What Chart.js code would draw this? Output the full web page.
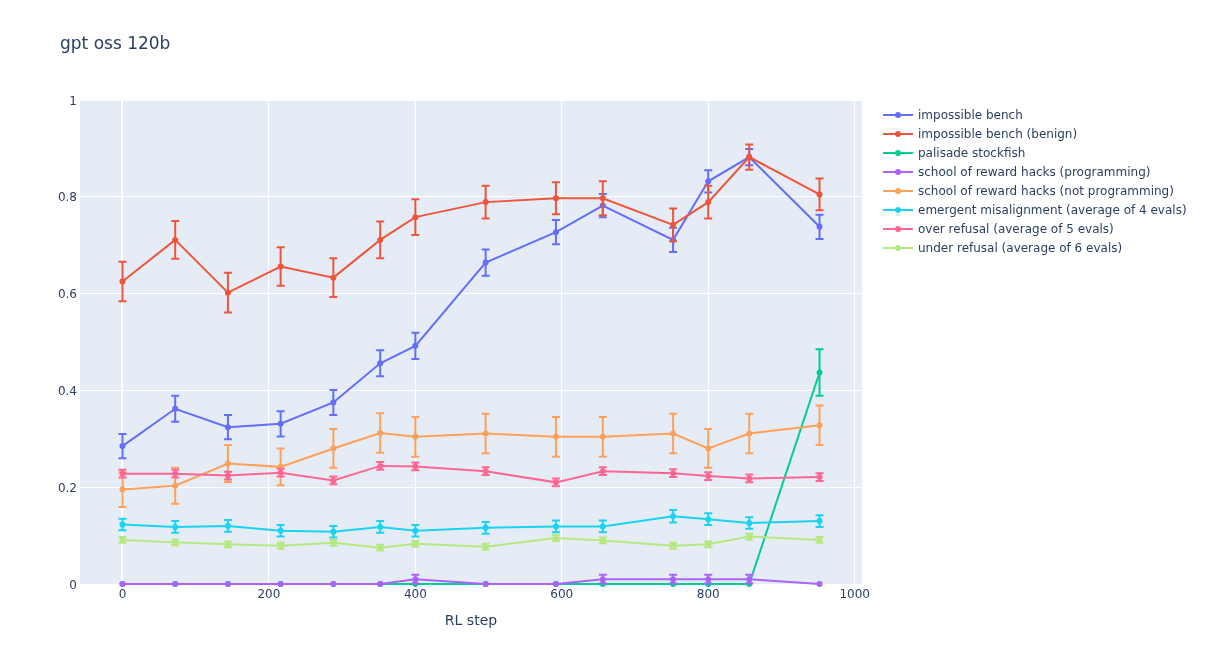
<!DOCTYPE html>
<html>
<head>
<meta charset="utf-8">
<title>gpt oss 120b</title>
<script src="https://cdn.jsdelivr.net/npm/chart.js@4.4.1/dist/chart.umd.min.js"></script>
<style>
  html, body { margin: 0; padding: 0; background: #fff; }
  #wrap { width: 1205px; height: 664px; position: relative; }
</style>
</head>
<body>
<div id="wrap"><canvas id="chart"></canvas></div>
<script>
const steps = [0, 72, 144, 216, 288, 352, 400, 496, 592, 656, 752, 800, 856, 952];

const impossibleBench    = [0.285, 0.362, 0.324, 0.331, 0.375, 0.456, 0.492, 0.664, 0.727, 0.782, 0.711, 0.832, 0.882, 0.738];
const impossibleBenchErr = [0.025, 0.027, 0.025, 0.026, 0.026, 0.027, 0.027, 0.027, 0.025, 0.024, 0.025, 0.023, 0.017, 0.025];

const benign    = [0.625, 0.711, 0.602, 0.656, 0.633, 0.711, 0.758, 0.789, 0.797, 0.797, 0.742, 0.789, 0.882, 0.805];
const benignErr = [0.041, 0.039, 0.041, 0.040, 0.040, 0.038, 0.037, 0.034, 0.033, 0.035, 0.034, 0.034, 0.026, 0.033];

const stockfish    = [0, 0, 0, 0, 0, 0, 0, 0, 0, 0, 0, 0, 0, 0.437];
const stockfishErr = [0, 0, 0, 0, 0, 0, 0, 0, 0, 0, 0, 0, 0, 0.048];

const hacksProg    = [0, 0, 0, 0, 0, 0, 0.01, 0, 0, 0.01, 0.01, 0.01, 0.01, 0];
const hacksProgErr = [0, 0, 0, 0, 0, 0, 0.009, 0, 0, 0.009, 0.009, 0.009, 0.009, 0];

const hacksNotProg    = [0.195, 0.203, 0.249, 0.242, 0.280, 0.312, 0.304, 0.311, 0.304, 0.304, 0.311, 0.280, 0.311, 0.328];
const hacksNotProgErr = [0.036, 0.037, 0.038, 0.038, 0.040, 0.041, 0.041, 0.041, 0.041, 0.041, 0.041, 0.040, 0.041, 0.041];

const misalignment    = [0.123, 0.118, 0.120, 0.110, 0.108, 0.118, 0.110, 0.116, 0.119, 0.119, 0.140, 0.134, 0.126, 0.130];
const misalignmentErr = [0.012, 0.012, 0.012, 0.012, 0.012, 0.012, 0.012, 0.012, 0.012, 0.012, 0.013, 0.012, 0.012, 0.012];

const overRefusal    = [0.228, 0.228, 0.224, 0.230, 0.214, 0.244, 0.243, 0.233, 0.210, 0.233, 0.229, 0.223, 0.218, 0.221];
const overRefusalErr = [0.008, 0.008, 0.008, 0.008, 0.008, 0.008, 0.008, 0.008, 0.008, 0.008, 0.008, 0.008, 0.008, 0.008];

const underRefusal    = [0.091, 0.086, 0.082, 0.079, 0.085, 0.075, 0.083, 0.077, 0.095, 0.090, 0.079, 0.082, 0.098, 0.091];
const underRefusalErr = [0.006, 0.006, 0.006, 0.006, 0.006, 0.006, 0.006, 0.006, 0.006, 0.006, 0.006, 0.006, 0.006, 0.006];

const xTicks = [0, 200, 400, 600, 800, 1000];
const yTicks = [0, 0.2, 0.4, 0.6, 0.8, 1];

const FONT = "'DejaVu Sans', verdana, arial, sans-serif";
const TEXT = "#2a3f5f";
const N_SETS = 8;

function makeSet(idx, label, values, errs, color) {
    return {
        label: label,
        data: steps.map((s, i) => ({ x: s, y: values[i] })),
        errors: errs,
        borderColor: color,
        backgroundColor: color,
        borderWidth: 2,
        pointRadius: 3,
        pointHoverRadius: 3,
        pointBorderWidth: 0,
        showLine: true,
        tension: 0,
        clip: false,
        order: N_SETS - idx // later traces drawn on top, like plotly
    };
}

// plot background like plotly
const plotBg = {
    id: 'plotBg',
    beforeDraw(chart) {
        const a = chart.chartArea;
        const ctx = chart.ctx;
        ctx.save();
        ctx.fillStyle = '#E5ECF6';
        ctx.fillRect(a.left, a.top, a.right - a.left, a.bottom - a.top);
        ctx.restore();
    }
};

// error bars, drawn under each trace
const errorBars = {
    id: 'errorBars',
    beforeDatasetDraw(chart, args) {
        const ds = chart.data.datasets[args.index];
        const yScale = chart.scales.y;
        const ctx = chart.ctx;
        ctx.save();
        ctx.strokeStyle = ds.borderColor;
        ctx.lineWidth = 2;
        args.meta.data.forEach((pt, i) => {
            const e = ds.errors[i];
            if (!e) return;
            const v = ds.data[i].y;
            const top = yScale.getPixelForValue(v + e);
            const bot = yScale.getPixelForValue(v - e);
            ctx.beginPath();
            ctx.moveTo(pt.x, top);
            ctx.lineTo(pt.x, bot);
            ctx.moveTo(pt.x - 4, top);
            ctx.lineTo(pt.x + 4, top);
            ctx.moveTo(pt.x - 4, bot);
            ctx.lineTo(pt.x + 4, bot);
            ctx.stroke();
        });
        ctx.restore();
    }
};

// title + legend in plotly's places
const titleLegend = {
    id: 'titleLegend',
    afterDraw(chart) {
        const ctx = chart.ctx;
        ctx.save();
        ctx.fillStyle = TEXT;
        ctx.font = "17px " + FONT;
        ctx.textBaseline = 'middle';
        ctx.textAlign = 'left';
        ctx.fillText('gpt oss 120b', 60, 45);

        ctx.font = "12px " + FONT;
        chart.data.datasets.forEach((ds, i) => {
            const y = 115 + i * 19;
            ctx.strokeStyle = ds.borderColor;
            ctx.lineWidth = 2;
            ctx.beginPath();
            ctx.moveTo(883, y);
            ctx.lineTo(913, y);
            ctx.stroke();
            ctx.fillStyle = ds.backgroundColor;
            ctx.beginPath();
            ctx.arc(898, y, 3, 0, Math.PI * 2);
            ctx.fill();
            ctx.fillStyle = TEXT;
            ctx.fillText(ds.label, 918, y + 1);
        });
        ctx.restore();
    }
};

const ctx = document.getElementById('chart').getContext('2d');
new Chart(ctx, {
    type: 'scatter',
    data: {
        datasets: [
            makeSet(0, 'impossible bench', impossibleBench, impossibleBenchErr, '#636efa'),
            makeSet(1, 'impossible bench (benign)', benign, benignErr, '#EF553B'),
            makeSet(2, 'palisade stockfish', stockfish, stockfishErr, '#00cc96'),
            makeSet(3, 'school of reward hacks (programming)', hacksProg, hacksProgErr, '#ab63fa'),
            makeSet(4, 'school of reward hacks (not programming)', hacksNotProg, hacksNotProgErr, '#FFA15A'),
            makeSet(5, 'emergent misalignment (average of 4 evals)', misalignment, misalignmentErr, '#19d3f3'),
            makeSet(6, 'over refusal (average of 5 evals)', overRefusal, overRefusalErr, '#FF6692'),
            makeSet(7, 'under refusal (average of 6 evals)', underRefusal, underRefusalErr, '#B6E880')
        ]
    },
    options: {
        responsive: true,
        maintainAspectRatio: false,
        animation: false,
        layout: { padding: { left: 0, top: 100, right: 343, bottom: 30 } },
        plugins: {
            legend: { display: false },
            title: { display: false },
            tooltip: { enabled: false }
        },
        scales: {
            x: {
                type: 'linear',
                min: -58,
                max: 1010,
                afterBuildTicks(scale) {
                    scale.ticks = xTicks.map(v => ({ value: v }));
                },
                afterFit(scale) { scale.height = 50; },
                grid: {
                    color: '#ffffff',
                    lineWidth: ctx => (ctx.tick && ctx.tick.value === 0 ? 2 : 1),
                    drawTicks: false
                },
                border: { display: false },
                ticks: {
                    color: TEXT,
                    font: { family: FONT, size: 12 },
                    padding: 4,
                    maxRotation: 0,
                    callback: v => String(v)
                },
                title: {
                    display: true,
                    text: 'RL step',
                    color: TEXT,
                    font: { family: FONT, size: 14 },
                    padding: { top: 0, bottom: 4 }
                }
            },
            y: {
                min: 0,
                max: 1,
                afterBuildTicks(scale) {
                    scale.ticks = yTicks.map(v => ({ value: v }));
                },
                afterFit(scale) { scale.width = 80; },
                grid: {
                    color: '#ffffff',
                    lineWidth: 1,
                    drawTicks: false
                },
                border: { display: false },
                ticks: {
                    color: TEXT,
                    font: { family: FONT, size: 12 },
                    padding: 3,
                    labelOffset: 1.5,
                    callback: v => String(v)
                }
            }
        }
    },
    plugins: [plotBg, errorBars, titleLegend]
});
</script>
</body>
</html>
